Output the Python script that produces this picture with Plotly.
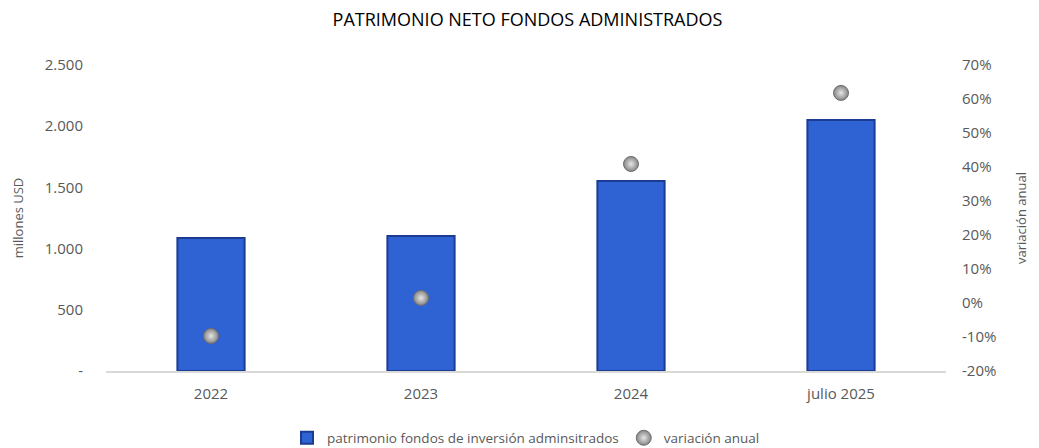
import plotly.graph_objects as go

categories = ["2022", "2023", "2024", "julio 2025"]
patrimonio = [1087, 1103, 1552, 2051]
variacion = [-9.7, 1.5, 40.9, 61.8]

left_tickvals = [0, 500, 1000, 1500, 2000, 2500]
left_ticktext = ["-", "500", "1.000", "1.500", "2.000", "2.500"]
right_tickvals = [-20, -10, 0, 10, 20, 30, 40, 50, 60, 70]
right_ticktext = [f"{v}%" for v in right_tickvals]

font_family = "Open Sans, Liberation Sans, sans-serif"
tick_color = "#595959"

fig = go.Figure()
fig.add_trace(go.Bar(
    x=categories, y=patrimonio,
    name="patrimonio fondos de inversión adminsitrados",
    marker=dict(color="#2F62D2", line=dict(color="#1C3C94", width=2)),
    width=0.32,
    yaxis="y",
))
fig.add_trace(go.Scatter(
    x=categories, y=variacion,
    name="variación anual",
    mode="markers",
    marker=dict(size=15, color="#858585", line=dict(color="#6E6E6E", width=1),
                gradient=dict(type="radial", color="#E6E6E6")),
    yaxis="y2",
))

fig.update_layout(
    width=1039, height=448,
    margin=dict(l=98, r=101, t=57, b=85, autoexpand=False),
    paper_bgcolor="white", plot_bgcolor="white",
    font=dict(family=font_family, color=tick_color, size=14),
    title=dict(text="PATRIMONIO NETO FONDOS ADMINISTRADOS", x=0.5, xanchor="center",
               y=0.973, yanchor="middle", automargin=False,
               font=dict(family=font_family, size=18, color="black")),
    xaxis=dict(showline=True, linecolor="#D9D9D9", linewidth=2, showgrid=False,
               ticks="", automargin=False, ticklabelstandoff=8,
               tickfont=dict(size=15, color=tick_color)),
    yaxis=dict(range=[0, 2500], tickvals=left_tickvals, ticktext=left_ticktext,
               showgrid=False, zeroline=False, ticks="", automargin=False,
               ticklabelstandoff=22,
               title=dict(text="millones USD", font=dict(size=13, color=tick_color), standoff=18),
               tickfont=dict(size=15, color=tick_color)),
    yaxis2=dict(range=[-20, 70], tickvals=right_tickvals, ticktext=right_ticktext,
                overlaying="y", side="right", showgrid=False, zeroline=False, ticks="",
                automargin=False, ticklabelstandoff=15,
                title=dict(text="variación anual", font=dict(size=13, color=tick_color), standoff=21),
                tickfont=dict(size=15, color=tick_color)),
    legend=dict(orientation="h", x=0.5, xanchor="center", y=-0.219, yanchor="middle",
                font=dict(size=13.5, color=tick_color), itemwidth=30),
    bargap=0.68,
)

fig.write_html("out.html")
